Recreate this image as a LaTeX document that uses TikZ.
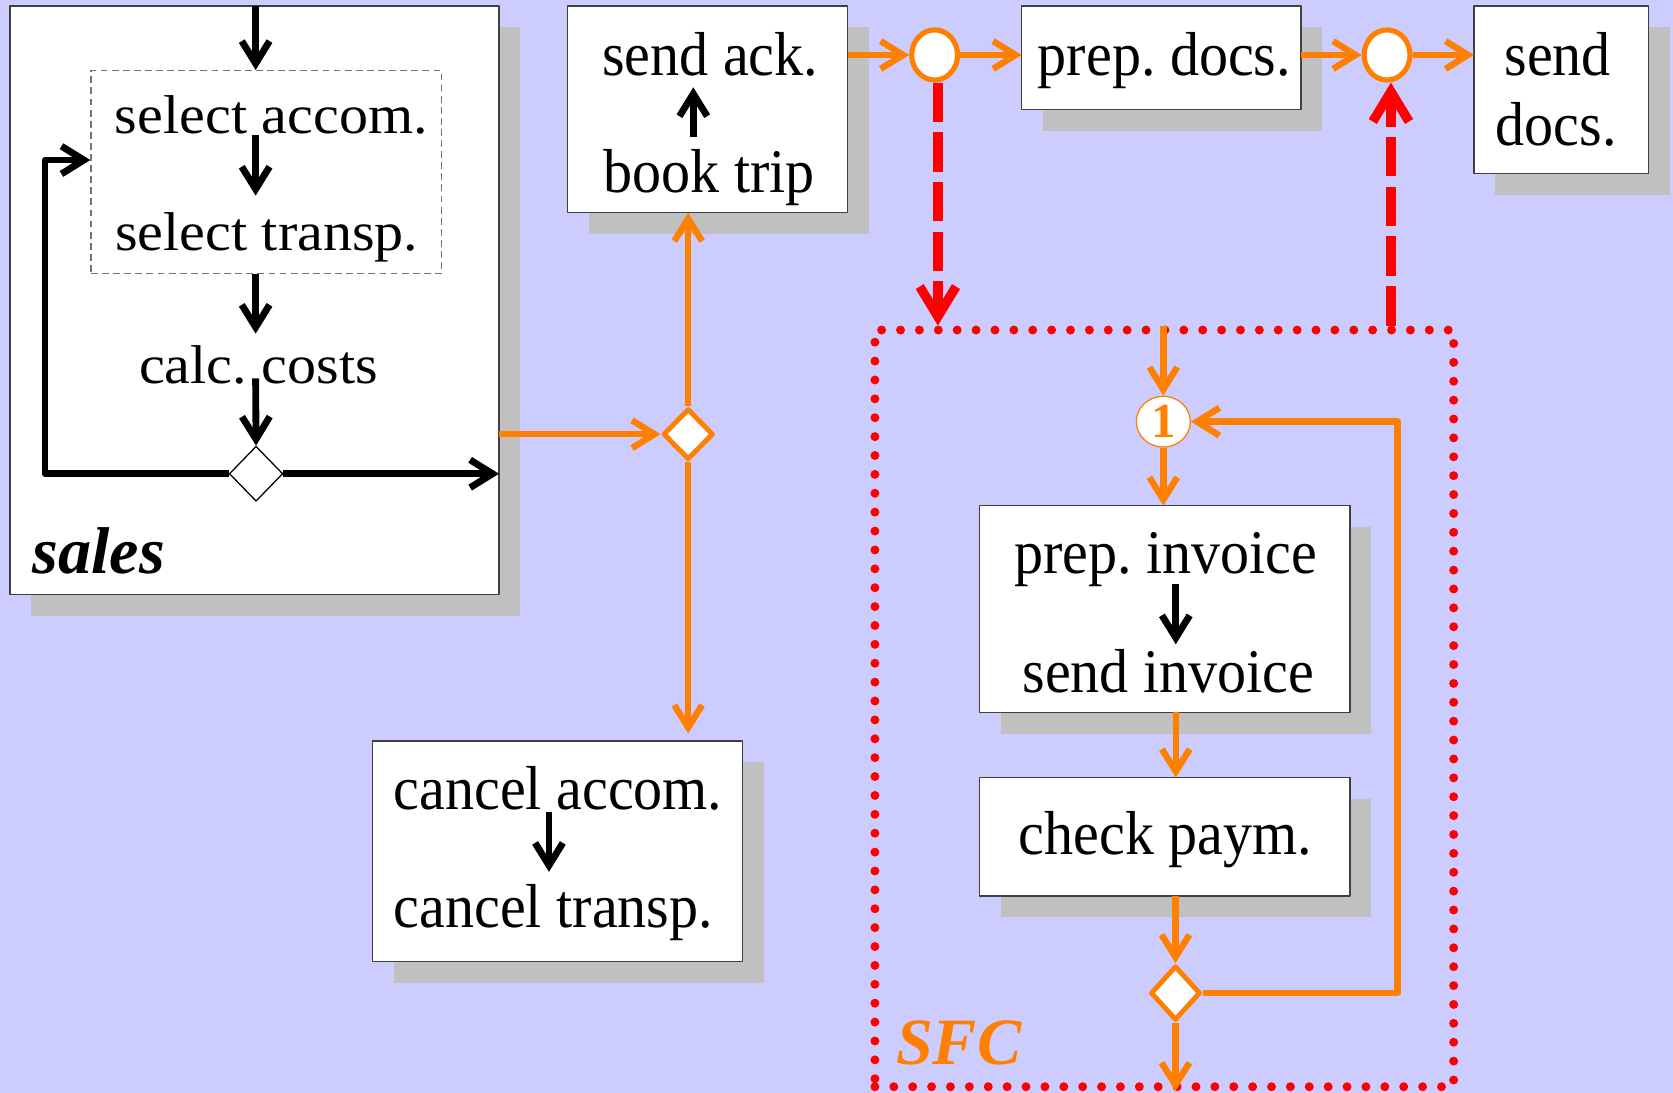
\documentclass[tikz,border=0pt]{standalone}
\usepackage{fontspec}
\setmainfont{Liberation Serif}
\newfontfamily\bodyfont{Liberation Serif}[FakeStretch=0.935]
\usetikzlibrary{arrows.meta,shapes.geometric,shadows,calc}
\definecolor{bgblue}{HTML}{CCCCFF}
\definecolor{flow}{HTML}{FF8000}
\definecolor{shadowc}{HTML}{C0C0C0}
\definecolor{framec}{HTML}{404040}
% the sales steps are set a little flatter than the rest
\newcommand\squashtxt[1]{\scalebox{1}[0.88]{#1}}
\frenchspacing

\begin{document}
\begin{tikzpicture}[x=0.5pt,y=-0.5pt,line join=round,
  box/.style={draw=framec, line width=0.6pt, fill=white, inner sep=0pt, outer sep=0pt,
    drop shadow={shadow xshift=10pt, shadow yshift=-10pt, fill=shadowc, opacity=1}},
  txt/.style={font=\bodyfont\fontsize{29.1pt}{34pt}\selectfont, inner sep=0pt, anchor=base},
  lbl/.style={font=\bfseries\itshape\fontsize{31pt}{36pt}\selectfont, inner sep=0pt, anchor=base},
  blk/.style={draw=black, line width=3.2pt, -{Straight Barb[length=10.5pt,width=13pt]}},
  orng/.style={draw=flow, line width=3pt, -{Straight Barb[length=10.5pt,width=13pt]}},
  redd/.style={draw=red, line width=4.4pt, dash pattern=on 18.45pt off 4.85pt,
    -{Straight Barb[length=14pt,width=17pt]}},
  event/.style={ellipse, draw=flow, line width=2.4pt, fill=white, inner sep=0pt,
    minimum width=21.5pt, minimum height=23.5pt},
  odec/.style={diamond, draw=flow, line width=2.3pt, fill=white, inner sep=0pt},
]
\fill[bgblue] (0,0) rectangle (1568,1024);
\useasboundingbox (0,0) rectangle (1568,1024);

% helper columns for the vertical flows
\coordinate (colS) at (239.6,0);
\coordinate (colA) at (649.8,0);
\coordinate (colC) at (514.5,0);
\coordinate (colI) at (1102,0);
\coordinate (back) at (42.2,150);
\coordinate (loopc) at (1309.9,395.2);

% ---------- sales ----------
\node[box, minimum width=229.15pt, minimum height=275.7pt] (sales) at (238.55,281.3) {};
\node[draw=black!55, line width=0.6pt, dash pattern=on 3.2pt off 2pt, inner sep=0pt,
      minimum width=164.35pt, minimum height=95pt] (selbox) at (249.65,161.2) {};
\node[txt] (sa) at (254.3,125) {\squashtxt{select accom.}};
\node[txt] (st) at (250,234.3) {\squashtxt{select transp.}};
\node[txt] (cc) at (242.2,359.3) {\squashtxt{calc. costs}};
\node[diamond, draw=black, line width=0.6pt, fill=white, inner sep=0pt,
      minimum width=25.1pt, minimum height=25.8pt] (bdia) at (240,444) {};
\node[lbl] (saleslbl) at (92.5,537.4) {sales};

\draw[blk] (colS |- sales.north) -- (colS |- selbox.north);
\draw[blk, shorten <=0.75pt, shorten >=7.5pt] (colS |- sa.base) -- (colS |- st.north);
\draw[blk, shorten >=5.3pt] (colS |- selbox.south) -- (colS |- cc.north);
\draw[blk, shorten <=-2.3pt] (colS |- cc.base) -- (bdia.north);
\draw[blk] (bdia.east) -- (bdia.east -| sales.east);
\draw[blk] (bdia.west) -| (back) -- (back -| selbox.west);

% ---------- booking ----------
\node[box, minimum width=131.25pt, minimum height=96.85pt] (ackbox) at (663.25,102.45) {};
\node[txt] (ack) at (665.7,71.2) {send ack.};
\node[txt] (book) at (664.6,180.6) {book trip};
\draw[blk, shorten <=5.75pt, shorten >=4.7pt] (colA |- book.north) -- (colA |- ack.south);

% ---------- cancellation ----------
\node[box, minimum width=173.4pt, minimum height=103.4pt] (cancelbox) at (522.7,797.9) {};
\node[txt] (ca) at (523,758.5) {cancel accom.};
\node[txt] (ct) at (518.6,869.1) {cancel transp.};
\draw[blk, shorten <=1.4pt, shorten >=5.6pt] (colC |- ca.base) -- (colC |- ct.north);

% branch after sales
\node[odec, minimum width=23.6pt, minimum height=24pt] (odia) at (645,406.9) {};
\draw[orng] (sales.east |- odia.west) -- (odia.west);
\draw[orng] (odia.north) -- (odia.north |- ackbox.south);
\draw[orng, shorten >=3.5pt] (odia.south) -- (odia.south |- cancelbox.north);

% ---------- documents ----------
\node[event] (c1) at (876,51.5) {};
\node[box, minimum width=130.9pt, minimum height=48.45pt] (docsbox) at (1088.4,54.05) {};
\node[txt] (pd) at (1091.4,71.2) {prep. docs.};
\node[event] (c2) at (1300,51.5) {};
\node[box, minimum width=81.85pt, minimum height=78.4pt] (senddocs) at (1463.35,84) {};
\node[txt] (sd1) at (1460,70.3) {send};
\node[txt] (sd2) at (1458.7,136.8) {docs.};

\draw[orng] (ackbox.east |- c1.west) -- (c1.west);
\draw[orng] (c1.east) -- (c1.east -| docsbox.west);
\draw[orng] (docsbox.east |- c2.west) -- (c2.west);
\draw[orng] (c2.east) -- (c2.east -| senddocs.west);

% ---------- SFC ----------
\node[draw=red, line width=4.2pt, dash pattern=on 0pt off 8.85pt, line cap=round,
      inner sep=0pt, minimum width=271.2pt, minimum height=354.6pt] (sfc) at (1091.2,663.9) {};
\node[lbl, text=flow] (sfclbl) at (898.5,998) {SFC};

\coordinate (r1) at ([xshift=1.5pt]c1.south);
\coordinate (r2) at ([xshift=1.8pt]c2.south);
\draw[redd] (r1) -- (r1 |- sfc.north);
\draw[redd] (r2 |- sfc.north) -- (r2);

\node[ellipse, draw=flow, line width=0.6pt, fill=white, inner sep=0pt, text=flow,
      font=\bfseries\fontsize{23pt}{26pt}\selectfont,
      minimum width=25.3pt, minimum height=23.8pt] (c3) at (1090.3,395.2) {1};
\node[box, minimum width=173.7pt, minimum height=96.8pt] (invbox) at (1091.5,570.8) {};
\node[txt] (pi) at (1092.6,537.3) {prep. invoice};
\node[txt] (si) at (1095,648.9) {send invoice};
\node[box, minimum width=173.7pt, minimum height=55.5pt] (paybox) at (1091.5,784.3) {};
\node[txt] (cp) at (1092.4,800.4) {check paym.};
\node[odec, minimum width=23.4pt, minimum height=25.6pt] (dia2) at (1101.7,930.7) {};

\draw[orng] (c3.north |- sfc.north) -- (c3.north);
\draw[orng] (c3.south) -- (c3.south |- invbox.north);
\draw[blk, shorten <=5pt, shorten >=2.15pt] (colI |- pi.base) -- (colI |- si.north);
\draw[orng] (colI |- invbox.south) -- (colI |- paybox.north);
\draw[orng] (dia2.north |- paybox.south) -- (dia2.north);
\draw[orng] (dia2.east) -| (loopc) -- (c3.east);
\draw[orng] (dia2.south) -- (dia2.south |- sfc.south);
\end{tikzpicture}
\end{document}
